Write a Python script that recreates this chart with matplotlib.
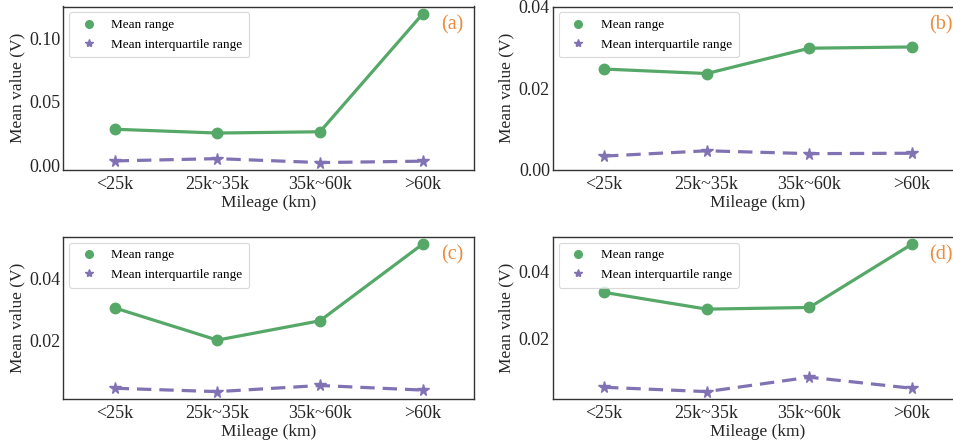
import matplotlib
matplotlib.use("Agg")
import matplotlib.pyplot as plt
from matplotlib.lines import Line2D

categories = ["<25k", "25k~35k", "35k~60k", ">60k"]

range_a = [0.0285, 0.0255, 0.0265, 0.1195]
iqr_a = [0.0035, 0.0053, 0.0022, 0.0033]
range_b = [0.0247, 0.0236, 0.0298, 0.0301]
iqr_b = [0.0034, 0.0047, 0.0040, 0.0041]
range_c = [0.0305, 0.0200, 0.0263, 0.0513]
iqr_c = [0.0043, 0.0032, 0.0052, 0.0037]
range_d = [0.0337, 0.0287, 0.0292, 0.0481]
iqr_d = [0.0054, 0.0041, 0.0084, 0.0051]

panel_labels = ["(a)", "(b)", "(c)", "(d)"]
ylims = [None, (0.0, 0.04), None, None]
yticks = [[0.0, 0.05, 0.10], [0.0, 0.02, 0.04], [0.02, 0.04], [0.02, 0.04]]

plt.rcParams["font.family"] = ["Liberation Serif", "DejaVu Serif"]
plt.rcParams["axes.linewidth"] = 1.0

GREEN = "#55a868"
PURPLE = "#8172b3"
ORANGE = "#ee8a3c"
SPINE = "#333333"

W, H = 954, 441
fig = plt.figure(figsize=(W / 100, H / 100), dpi=100)

# axes boxes in pixels: left, top, right, bottom
boxes = [
    (63.3, 6.5, 474.0, 170.0),
    (552.7, 6.5, 963.4, 170.0),
    (63.3, 236.7, 474.0, 399.0),
    (552.7, 236.7, 963.4, 399.0),
]

data = [(range_a, iqr_a), (range_b, iqr_b), (range_c, iqr_c), (range_d, iqr_d)]
x = list(range(len(categories)))

for i, (box, (rng, iqr)) in enumerate(zip(boxes, data)):
    l, t, r, b = box
    ax = fig.add_axes([l / W, 1 - b / H, (r - l) / W, (b - t) / H])
    ax.plot(x, rng, color=GREEN, lw=2.3, marker="o", ms=7.5, zorder=3)
    ax.plot(x, iqr, color=PURPLE, lw=2.3, ls=(0, (4.5, 2.5)), marker="*", ms=8.5, zorder=3)
    ax.set_xlim(-0.5, 3.5)
    if ylims[i] is not None:
        ax.set_ylim(*ylims[i])
    ax.set_yticks(yticks[i])
    ax.set_yticklabels([f"{v:.2f}" for v in yticks[i]])
    ax.set_xticks(x)
    ax.set_xticklabels(categories)
    ax.tick_params(axis="y", length=0, pad=2, labelsize=13, colors="#262626")
    ax.tick_params(axis="x", length=0, pad=4, labelsize=13, colors="#262626")
    for s in ax.spines.values():
        s.set_color(SPINE)
        s.set_linewidth(1.0)
    ax.set_xlabel("Mileage (km)", fontsize=12.5, labelpad=2, color="#262626")
    ax.set_ylabel("Mean value (V)", fontsize=12.5, labelpad=3, color="#262626")
    handles = [
        Line2D([], [], color=GREEN, marker="o", ls="none", ms=5.5),
        Line2D([], [], color=PURPLE, marker="*", ls="none", ms=6),
    ]
    leg = ax.legend(handles, ["Mean range", "Mean interquartile range"],
                    loc="upper left", fontsize=9.5, frameon=True,
                    handletextpad=0.7, borderpad=0.5, labelspacing=0.55,
                    bbox_to_anchor=(0.0, 1.0), borderaxespad=0.45)
    leg.get_frame().set_edgecolor("#d0d0d0")
    leg.get_frame().set_linewidth(0.8)
    ax.text(1 - 11.0 / (r - l), 1 - 18.0 / (b - t),
            panel_labels[i], transform=ax.transAxes,
            ha="right", va="center", color=ORANGE, fontsize=14.5)

fig.savefig("out.png", dpi=100)
